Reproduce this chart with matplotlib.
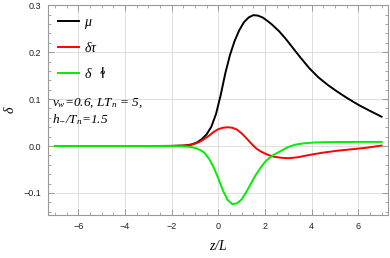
import numpy as np
import matplotlib
matplotlib.use("Agg")
from matplotlib import pyplot as plt
from matplotlib.ticker import MultipleLocator

# values
mu_z = [-7.0, -5.0, -3.0, -2.0, -1.5, -1.3, -1.1, -0.9, -0.7, -0.5, -0.3, -0.1, 0.1, 0.3, 0.5,
        0.7, 0.9, 1.1, 1.3, 1.5, 1.7, 1.9, 2.1, 2.3, 2.6, 2.9, 3.2, 3.5, 3.9, 4.3, 4.7,
        5.1, 5.5, 6.0, 6.5, 7.0]
mu = [0.0, 0.0, 0.0, 0.0003, 0.001, 0.002, 0.004, 0.008, 0.015, 0.025, 0.041, 0.068, 0.108, 0.155, 0.194,
      0.224, 0.247, 0.264, 0.274, 0.279, 0.278, 0.274, 0.267, 0.259, 0.245, 0.228, 0.209, 0.190, 0.166, 0.146, 0.130,
      0.116, 0.103, 0.088, 0.075, 0.0625]

tau_z = [-7.0, -5.0, -3.0, -2.0, -1.5, -1.2, -1.0, -0.8, -0.6, -0.4, -0.2, 0.0, 0.2, 0.4, 0.6,
         0.8, 1.0, 1.2, 1.4, 1.6, 1.8, 2.0, 2.2, 2.4, 2.7, 3.0, 3.4, 3.9, 4.5, 5.1, 5.7,
         6.3, 7.0]
tau = [0.0, 0.0, 0.0, 0.0002, 0.0007, 0.002, 0.005, 0.009, 0.015, 0.022, 0.030, 0.036, 0.039, 0.040, 0.039,
       0.035, 0.027, 0.017, 0.006, -0.004, -0.011, -0.016, -0.020, -0.023, -0.025, -0.026, -0.024, -0.019, -0.014, -0.010, -0.007,
       -0.004, 0.001]

phi_z = [-7.0, -5.0, -3.0, -2.0, -1.5, -1.2, -1.0, -0.8, -0.6, -0.4, -0.2, 0.0, 0.2, 0.4, 0.6,
         0.8, 1.0, 1.2, 1.4, 1.6, 1.8, 2.0, 2.2, 2.4, 2.7, 3.0, 3.3, 3.7, 4.2, 5.0, 6.0,
         7.0]
phi = [0.0, 0.0, 0.0, -0.0002, -0.0008, -0.002, -0.004, -0.008, -0.014, -0.027, -0.045, -0.069, -0.095, -0.115, -0.124,
       -0.122, -0.114, -0.098, -0.080, -0.062, -0.047, -0.034, -0.025, -0.018, -0.010, -0.002, 0.003, 0.006, 0.0078, 0.0085, 0.0088,
       0.0088]

labels = ['$\\mu$', '$\\delta\\tau$', '$\\delta$  ɫ']

plt.rcParams['mathtext.fontset'] = 'custom'
plt.rcParams['mathtext.it'] = 'Liberation Serif:italic'
plt.rcParams['mathtext.rm'] = 'Liberation Serif:italic'

fig = plt.figure(figsize=(3.9, 2.58), dpi=100)
ax = fig.add_axes([0.1238, 0.1667, 0.8719, 0.8128])

ax.plot(mu_z, mu, color='black', lw=1.4, label=labels[0])
ax.plot(tau_z, tau, color='#ff0000', lw=1.4, label=labels[1])
ax.plot(phi_z, phi, color='#00ee00', lw=1.4, label=labels[2])

ax.set_xlim(-7.29, 7.29)
ax.set_ylim(-0.147, 0.3)
ax.xaxis.set_minor_locator(MultipleLocator(0.5))
ax.yaxis.set_minor_locator(MultipleLocator(0.02))
ax.set_yticks([-0.1, 0.0, 0.1, 0.2, 0.3])
ax.set_yticklabels(['\u22120.1', '0.0', '0.1', '0.2', '0.3'])
ax.set_xticks([-6, -4, -2, 0, 2, 4, 6])
ax.set_xticklabels(['\u22126', '\u22124', '\u22122', '0', '2', '4', '6'])

ax.grid(True, which='major', color='#dddddd', linewidth=0.7)
ax.set_axisbelow(True)
for spine in ax.spines.values():
    spine.set_color('#999999')
    spine.set_linewidth(0.8)
ax.tick_params(which='both', direction='in', top=True, right=True, color='#999999')
ax.tick_params(which='major', length=4, width=0.7, labelsize=6.5, labelcolor='#222222', pad=5)
ax.tick_params(which='minor', length=2, width=0.6)
for lab in ax.get_xticklabels() + ax.get_yticklabels():
    lab.set_family('Liberation Sans')

ax.set_xlabel('$z/L$', fontsize=10, labelpad=6)
ax.set_ylabel('$\\delta$', fontsize=10, labelpad=5)

leg = ax.legend(loc='upper left', bbox_to_anchor=(0.028, 0.955), frameon=False,
                fontsize=10, handlelength=1.5, handletextpad=0.4, labelspacing=0.75,
                borderpad=0, borderaxespad=0)

ax.text(0.011, 0.534, '$v_w$=0.6, $LT_n$ = 5,', transform=ax.transAxes,
        fontsize=9.5, family='Liberation Serif', style='italic', va='center')
ax.text(0.011, 0.453, '$h_{-}/T_n$=1.5', transform=ax.transAxes,
        fontsize=9.5, family='Liberation Serif', style='italic', va='center')

fig.savefig('out.png', dpi=100)
